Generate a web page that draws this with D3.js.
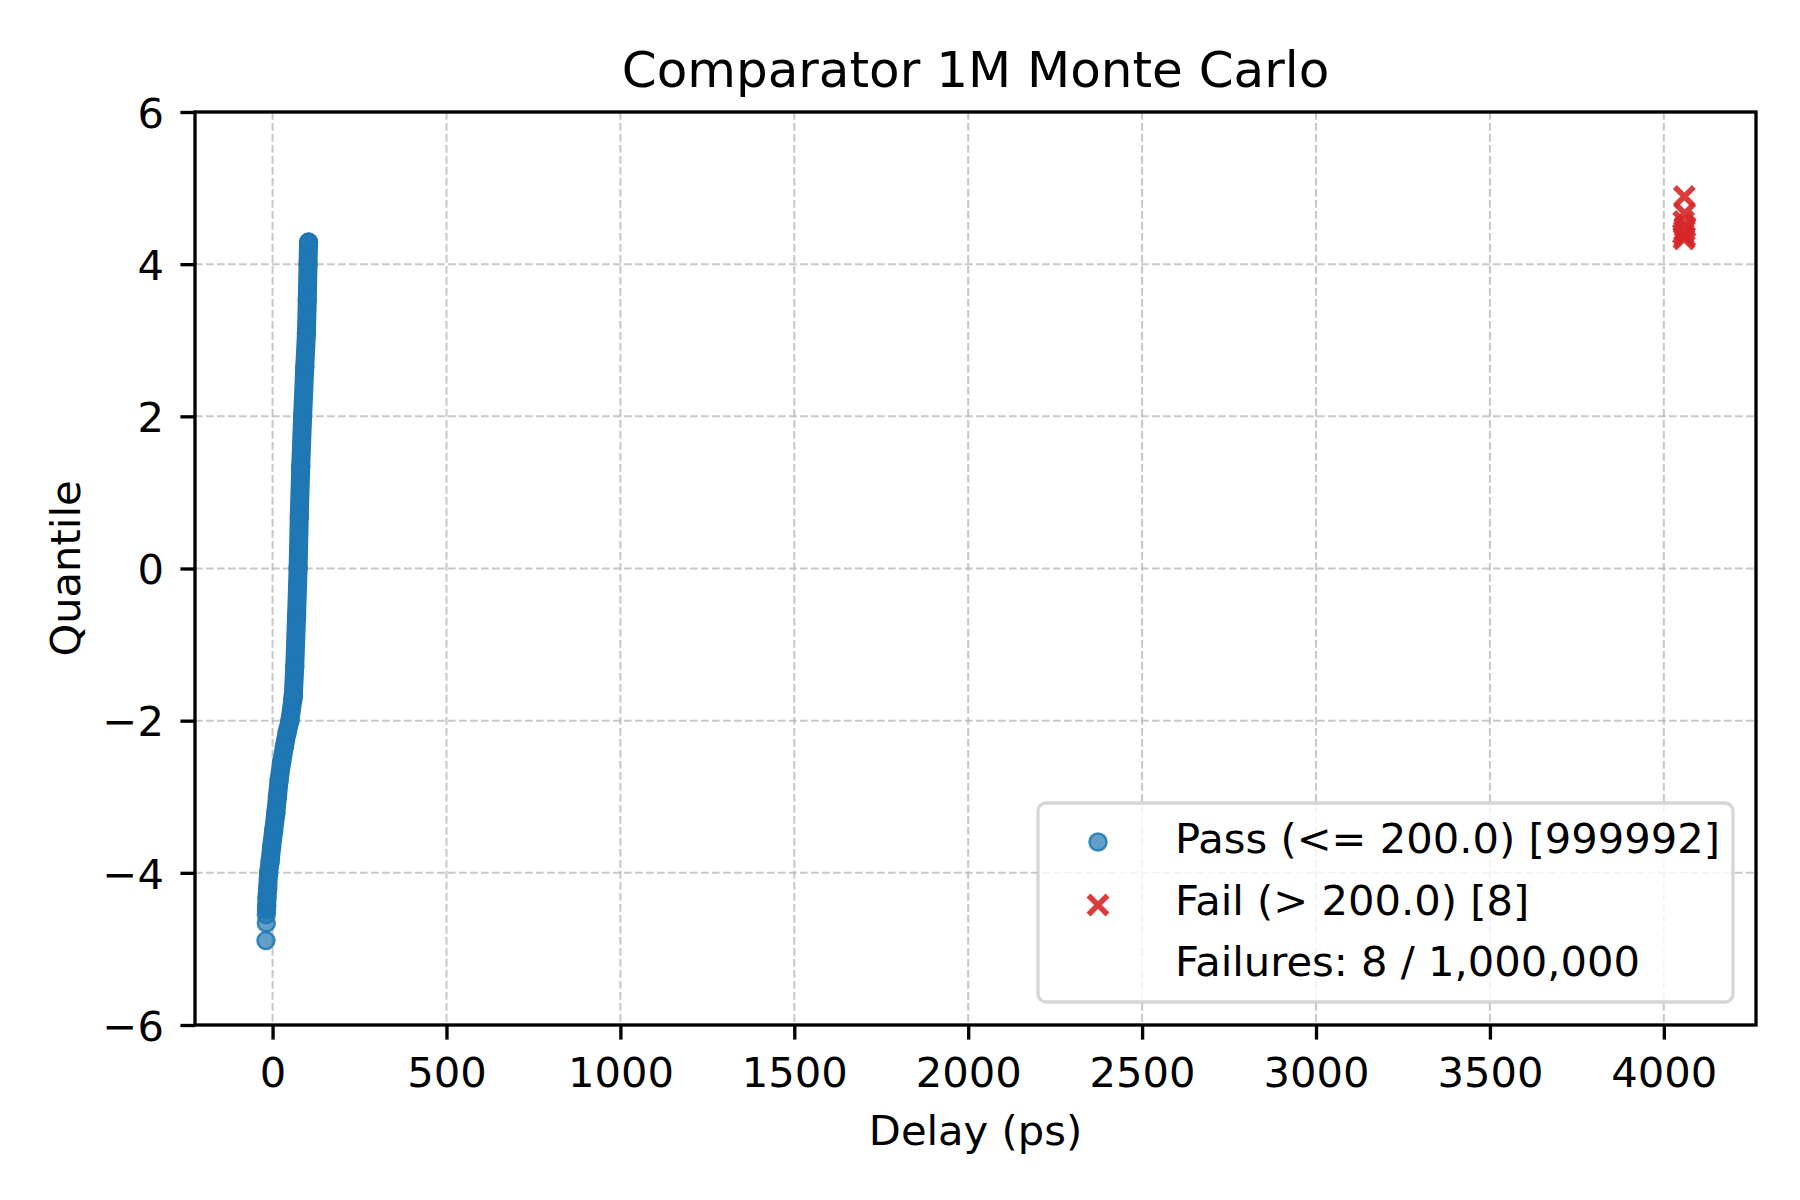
<!DOCTYPE html>
<html>
<head>
<meta charset="utf-8">
<script src="https://cdn.jsdelivr.net/npm/d3@7"></script>
<style>
  html, body { margin: 0; padding: 0; background: #fff; }
  svg { display: block; }
  text { font-family: "DejaVu Sans", sans-serif; fill: #000; }
</style>
</head>
<body>
<svg id="chart" width="1800" height="1200"></svg>
<script>
// ---------------- data ----------------
const titleText = "Comparator 1M Monte Carlo";
const xLabelText = "Delay (ps)";
const yLabelText = "Quantile";

// Pass samples: ordered quantile curve (delay ps, normal quantile)
const passDelay    = [-19, -18, -18, -17.5, -17, -16, -14, -11.4, -7, -2.8, 3, 9.3, 14, 18.8, 26, 34, 42, 50, 58, 59.5, 63.8, 69, 73.4, 76.8, 81, 86.4, 92.6, 97.4, 99.8, 102, 103.5];
const passQuantile = [-4.89, -4.66, -4.55, -4.49, -4.44, -4.32, -4.2, -4.0, -3.85, -3.66, -3.45, -3.22, -3.0, -2.78, -2.55, -2.34, -2.15, -2.0, -1.73, -1.68, -1.29, -0.63, 0, 0.68, 1.34, 2.0, 2.65, 3.09, 3.53, 4.0, 4.29];
// number of lowest tail points drawn as isolated markers only
const passTailCount = 4;

// Fail samples (8 failures)
const failDelay    = [4059, 4060, 4057, 4061, 4059, 4056, 4060, 4058];
const failQuantile = [4.89, 4.67, 4.56, 4.49, 4.44, 4.40, 4.36, 4.33];

const xTicks = [0, 500, 1000, 1500, 2000, 2500, 3000, 3500, 4000];
const yTicks = [-6, -4, -2, 0, 2, 4, 6];
const yDomain = [-6, 6];

const legendLabels = ["Pass (<= 200.0) [999992]", "Fail (> 200.0) [8]", "Failures: 8 / 1,000,000"];

// ---------------- layout ----------------
const W = 1800, H = 1200;
const plot = { left: 195, right: 1756, top: 112, bottom: 1025 };
const FS = 41.67;            // 10pt at 300 dpi
const TITLE_FS = 50;         // 12pt at 300 dpi
const spineW = 3.33, tickLen = 14.6;
const blue = "#1f77b4", red = "#d62728";

const svg = d3.select("#chart");

const passPts = passDelay.map((d, i) => ({ x: d, y: passQuantile[i] }));
const failPts = failDelay.map((d, i) => ({ x: d, y: failQuantile[i] }));

const allX = passDelay.concat(failDelay);
const xmin = d3.min(allX), xmax = d3.max(allX);
const pad = (xmax - xmin) * 0.05;

const x = d3.scaleLinear().domain([xmin - pad, xmax + pad]).range([plot.left, plot.right]);
const y = d3.scaleLinear().domain(yDomain).range([plot.bottom, plot.top]);

// clip
svg.append("defs").append("clipPath").attr("id", "clip")
  .append("rect").attr("x", plot.left).attr("y", plot.top)
  .attr("width", plot.right - plot.left).attr("height", plot.bottom - plot.top);

// grid
const grid = svg.append("g").attr("stroke", "#b0b0b0").attr("stroke-opacity", 0.7)
  .attr("stroke-width", 2.08).attr("stroke-dasharray", "7.7,3.3");
grid.selectAll("line.gx").data(xTicks).join("line").attr("class", "gx")
  .attr("x1", d => x(d)).attr("x2", d => x(d)).attr("y1", plot.top).attr("y2", plot.bottom);
grid.selectAll("line.gy").data(yTicks).join("line").attr("class", "gy")
  .attr("x1", plot.left).attr("x2", plot.right).attr("y1", d => y(d)).attr("y2", d => y(d));

const dataG = svg.append("g").attr("clip-path", "url(#clip)");

// pass band (dense scatter rendered as its envelope)
const line = d3.line().x(d => x(d.x)).y(d => y(d.y));
dataG.append("path")
  .datum(passPts.slice(passTailCount))
  .attr("d", line)
  .attr("fill", "none").attr("stroke", blue).attr("stroke-width", 19)
  .attr("stroke-linecap", "round").attr("stroke-linejoin", "round");

// pass markers
dataG.selectAll("circle.pass").data(passPts).join("circle").attr("class", "pass")
  .attr("cx", d => x(d.x)).attr("cy", d => y(d.y)).attr("r", 8.5)
  .attr("fill", blue).attr("fill-opacity", 0.7)
  .attr("stroke", blue).attr("stroke-opacity", 0.85).attr("stroke-width", 2.5);

// fail markers (x)
const crossPath = s => `M${-s},${-s}L${s},${s}M${-s},${s}L${s},${-s}`;
dataG.selectAll("path.fail").data(failPts).join("path").attr("class", "fail")
  .attr("transform", d => `translate(${x(d.x)},${y(d.y)})`)
  .attr("d", crossPath(9.5))
  .attr("fill", "none").attr("stroke", red).attr("stroke-opacity", 0.9).attr("stroke-width", 5.5);

// axes
const xAxis = d3.axisBottom(x).tickValues(xTicks).tickSize(tickLen).tickPadding(14.6).tickFormat(d3.format("d"));
const yAxis = d3.axisLeft(y).tickValues(yTicks).tickSize(tickLen).tickPadding(14.6).tickFormat(d3.format("d"));

const gx = svg.append("g").attr("transform", `translate(0,${plot.bottom})`).call(xAxis);
gx.select(".domain").remove();
gx.selectAll(".tick line").attr("stroke", "#000").attr("stroke-width", spineW);
gx.selectAll(".tick text").attr("font-size", FS).attr("fill", "#000")
  .attr("dy", null).attr("y", 62).attr("font-family", "DejaVu Sans");

const gy = svg.append("g").attr("transform", `translate(${plot.left},0)`).call(yAxis);
gy.select(".domain").remove();
gy.selectAll(".tick line").attr("stroke", "#000").attr("stroke-width", spineW);
gy.selectAll(".tick text").attr("font-size", FS).attr("fill", "#000")
  .attr("dy", null).attr("y", 15.2).attr("x", -31).attr("font-family", "DejaVu Sans");

// spines
svg.append("rect").attr("x", plot.left).attr("y", plot.top)
  .attr("width", plot.right - plot.left).attr("height", plot.bottom - plot.top)
  .attr("fill", "none").attr("stroke", "#000").attr("stroke-width", spineW);

// title & labels
const cx = (plot.left + plot.right) / 2;
svg.append("text").attr("x", cx).attr("y", 87).attr("text-anchor", "middle")
  .attr("font-size", TITLE_FS).text(titleText);
svg.append("text").attr("x", cx).attr("y", 1145).attr("text-anchor", "middle")
  .attr("font-size", FS).text(xLabelText);
svg.append("text").attr("transform", `translate(80,${(plot.top + plot.bottom) / 2}) rotate(-90)`)
  .attr("text-anchor", "middle").attr("font-size", FS).text(yLabelText);

// legend
const lg = svg.append("g");
lg.append("rect").attr("x", 1038).attr("y", 803).attr("width", 695).attr("height", 199)
  .attr("rx", 8).attr("ry", 8)
  .attr("fill", "#fff").attr("fill-opacity", 0.8)
  .attr("stroke", "#cccccc").attr("stroke-opacity", 0.8).attr("stroke-width", 3.33);
const lgRows = [842, 905, 966];
lg.append("circle").attr("cx", 1098).attr("cy", lgRows[0]).attr("r", 8.5)
  .attr("fill", blue).attr("fill-opacity", 0.7)
  .attr("stroke", blue).attr("stroke-opacity", 0.85).attr("stroke-width", 2.5);
lg.append("path").attr("transform", `translate(1098,${lgRows[1]})`).attr("d", crossPath(9.5))
  .attr("fill", "none").attr("stroke", red).attr("stroke-opacity", 0.9).attr("stroke-width", 5.5);
lg.selectAll("text.lg").data(legendLabels).join("text").attr("class", "lg")
  .attr("x", 1175).attr("y", (d, i) => [853, 915, 976][i])
  .attr("font-size", FS).text(d => d);
</script>
</body>
</html>
